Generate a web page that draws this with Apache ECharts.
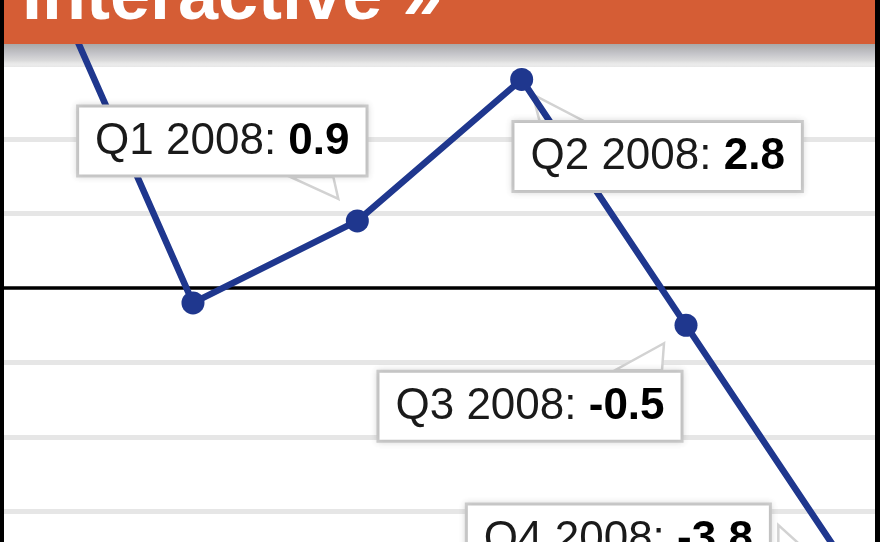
<!DOCTYPE html>
<html>
<head>
<meta charset="utf-8">
<script src="https://cdn.jsdelivr.net/npm/echarts@6/dist/echarts.min.js"></script>
<style>
html,body{margin:0;padding:0;background:#fff;overflow:hidden;width:880px;height:542px;position:relative;}
#chart{position:absolute;left:0;top:-60px;width:880px;height:680px;}
</style>
</head>
<body>
<div id="chart"></div>
<script>
// ---- data ----
var categories = ['Q3 2007', 'Q4 2007', 'Q1 2008', 'Q2 2008', 'Q3 2008', 'Q4 2008'];
var values = [4.8, -0.2, 0.9, 2.8, -0.5, -3.8];
var labeledIdx = [2, 3, 4, 5];
var gridValues = [-3, -2, -1, 1, 2, 3];
var headerText = 'Interactive \u00bb';

// ---- styles (callout offsets relative to each point) ----
var SHIFT = 60; // chart canvas is shifted up by this many px (see CSS)
var labelOffsets = { 2: [-135, -80], 3: [136, 77], 4: [-156, 81], 5: [-232, -32] };
var tailShapes = {
  2: [[-19, -22], [-67, -44], [-24, -44]],
  3: [[11, 15], [18, 42], [63, 42]],
  4: [[-22, 18], [-71, 45], [-24, 45]],
  5: [[-30, -8], [-72, -46], [-72, -16]]
};
var NAVY = '#1f378e';
var FONT = '"Liberation Sans", Arial, Helvetica, sans-serif';

var chart = echarts.init(document.getElementById('chart'), null, { renderer: 'canvas' });

var seriesData = values.map(function (v, i) {
  var item = { value: [i, v] };
  if (labeledIdx.indexOf(i) >= 0) {
    item.label = {
      show: true,
      position: 'inside',
      offset: labelOffsets[i],
      formatter: '{n|' + categories[i] + ': }{b|' + v.toFixed(1) + '}',
      backgroundColor: '#ffffff',
      borderColor: '#cdcdcd',
      borderWidth: 3,
      padding: [9, 16, 8, 16],
      shadowBlur: 6,
      shadowColor: 'rgba(0,0,0,0.12)',
      rich: {
        n: { fontFamily: FONT, fontSize: 44, color: '#1a1a1a', lineHeight: 50 },
        b: { fontFamily: FONT, fontSize: 44, fontWeight: 'bold', color: '#000', lineHeight: 50 }
      }
    };
  }
  return item;
});

chart.setOption({
  animation: false,
  backgroundColor: '#ffffff',
  grid: { left: 4, right: 5, top: 50, bottom: 34, containLabel: false },
  xAxis: {
    type: 'value',
    min: -0.15,
    max: 5.15,
    axisLine: { show: true, onZero: true, lineStyle: { color: '#000', width: 3.5 } },
    axisTick: { show: false },
    axisLabel: { show: false },
    splitLine: { show: false }
  },
  yAxis: {
    type: 'value',
    min: -4,
    max: 4,
    interval: 1,
    axisLine: { show: false },
    axisTick: { show: false },
    axisLabel: { show: false },
    splitLine: { show: false }
  },
  series: [{
    type: 'line',
    z: 5,
    data: seriesData,
    symbol: 'circle',
    symbolSize: 23,
    itemStyle: { color: NAVY },
    lineStyle: { color: NAVY, width: 6.5 },
    label: { show: false },
    markLine: {
      silent: true,
      symbol: 'none',
      z: 1,
      label: { show: false },
      lineStyle: { type: 'solid', color: '#e6e6e6', width: 5 },
      data: gridValues.map(function (g) { return { yAxis: g }; })
    }
  }]
});

// build tails and frame
var graphics = [];
labeledIdx.forEach(function (i) {
  var p = chart.convertToPixel({ gridIndex: 0 }, [i, values[i]]);
  var pts = tailShapes[i].map(function (o) { return [p[0] + o[0], p[1] + o[1]]; });
  graphics.push({
    type: 'polygon',
    z: 4,
    shape: { points: pts },
    style: { fill: '#ffffff', stroke: '#d2d2d2', lineWidth: 2.5 }
  });
});
// shadow gradient under header (drawn below the line)
graphics.push({
  type: 'rect', z: 3,
  shape: { x: 0, y: SHIFT + 44, width: 880, height: 23 },
  style: {
    fill: new echarts.graphic.LinearGradient(0, 0, 0, 1, [
      { offset: 0, color: '#a9a9a9' },
      { offset: 0.4, color: '#c3c3c8' },
      { offset: 0.75, color: '#dcdcdc' },
      { offset: 1, color: 'rgba(255,255,255,0)' }
    ])
  }
});
graphics.push({
  type: 'rect', z: 21,
  shape: { x: 0, y: 0, width: 880, height: SHIFT + 44 },
  style: { fill: '#d55d35' }
});
graphics.push({
  type: 'text', z: 22,
  x: 22, y: SHIFT + 35,
  style: {
    text: headerText,
    fill: '#ffffff',
    font: 'bold 72px ' + FONT,
    verticalAlign: 'bottom'
  }
});
graphics.push({
  type: 'rect', z: 23,
  shape: { x: 0, y: 0, width: 4, height: 680 },
  style: { fill: '#000' }
});
graphics.push({
  type: 'rect', z: 23,
  shape: { x: 875, y: 0, width: 5, height: 680 },
  style: { fill: '#000' }
});
chart.setOption({ graphic: graphics });
</script>
</body>
</html>
